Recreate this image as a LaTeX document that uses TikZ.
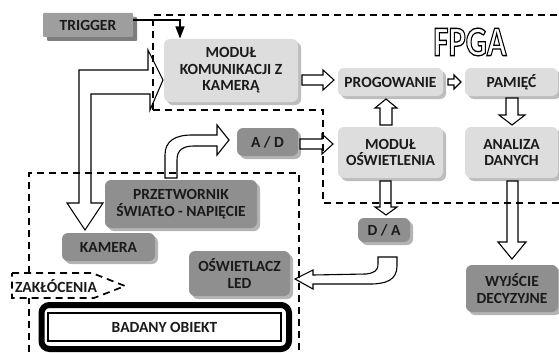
\documentclass[tikz,border=0pt]{standalone}
\usepackage{fontspec}
\setmainfont{Carlito}
\usetikzlibrary{shadows,arrows.meta}
\definecolor{dfill}{HTML}{8F8F8F}
\definecolor{dshad}{HTML}{B4B4B4}
\definecolor{lfill}{HTML}{DDDDDD}
\definecolor{lshad}{HTML}{BDBDBD}
\definecolor{tfill}{HTML}{9E9E9E}
\definecolor{tshad}{HTML}{7E7E7E}
\definecolor{txt}{HTML}{1A1A1A}
\newcommand{\lbl}{\fontsize{15.5}{16.5}\selectfont\bfseries\color{txt}}
\tikzset{
  box/.style={rounded corners=6pt, align=center, inner sep=0pt, font=\lbl},
  dbox/.style={box, fill=dfill, drop shadow={shadow xshift=3pt, shadow yshift=-3pt, fill=dshad, opacity=1}},
  lbox/.style={box, fill=lfill, drop shadow={shadow xshift=3pt, shadow yshift=-3pt, fill=lshad, opacity=1}},
  tbox/.style={box, rounded corners=1pt, fill=tfill, drop shadow={shadow xshift=4pt, shadow yshift=-4pt, fill=tshad, opacity=1}},
  sz/.style 2 args={minimum width=#1pt, minimum height=#2pt},
  barrow/.style={draw=black, fill=white, line width=1.1pt, line join=miter},
  dashline/.style={draw=black, line width=1.7pt, dash pattern=on 7pt off 5pt},
}
\begin{document}
\begin{tikzpicture}[x=1pt,y=-1pt]
\useasboundingbox (0,0) rectangle (559,353);
\fill[white] (0,0) rectangle (559,353);

% boxes
\node[tbox, sz={90}{24}] (trig) at (88,25) {TRIGGER};
\node[lbox, sz={134}{63}] (kom) at (231,70.5) {MODUŁ\\KOMUNIKACJI Z\\KAMERĄ};
\node[lbox, sz={105}{28}] (prog) at (390.5,82) {PROGOWANIE};
\node[lbox, sz={93}{28}] (pam) at (511.5,82) {PAMIĘĆ};
\node[lbox, sz={105}{51}] (osw) at (390.5,152.5) {MODUŁ\\OŚWIETLENIA};
\node[lbox, sz={93}{51}] (anal) at (511.5,152.5) {ANALIZA\\DANYCH};
\node[dbox, sz={61}{28}] (ad) at (267.5,142) {A / D};
\node[dbox, sz={152}{48}] (prz) at (181,204) {PRZETWORNIK\\ŚWIATŁO - NAPIĘCIE};
\node[dbox, sz={93}{28}] (kam) at (108.5,247) {KAMERA};
\node[dbox, sz={101}{45}] (led) at (239.5,273.5) {OŚWIETLACZ\\LED};
\node[dbox, sz={52}{24}] (da) at (384,230) {D / A};
\node[dbox, sz={92}{47}] (wyj) at (512,288.5) {WYJŚCIE\\DECYZYJNE};

% badany obiekt
\draw[line width=6pt, rounded corners=8pt] (41.5,305) rectangle (289,349);
\node[draw=black, line width=1.2pt, fill=white, sz={233}{28}, inner sep=0pt, font=\lbl] (obj) at (164.5,327) {BADANY OBIEKT};

% FPGA label (outlined text)
\node[font=\fontsize{42}{42}\selectfont\bfseries, xscale=0.78, inner sep=0pt] (fpga) at (470,42)
  {\special{pdf:literal direct 1 Tr 1.3 w 0 G}FPGA\special{pdf:literal direct 0 Tr}};

% trigger connector
\coordinate (tk) at (180,38.5);
\draw[line width=1.3pt, -{Triangle[width=9pt,length=12pt]}] ([yshift=5pt]trig.east) -| (tk);

% block arrows
\draw[barrow] (302,75) -- (323,75) -- (323,70) -- (334,80) -- (323,90) -- (323,85) -- (302,85) -- cycle;
\draw[barrow] (448,79) -- (454,79) -- (454,75) -- (461,82) -- (454,89) -- (454,85) -- (448,85) -- cycle;
\draw[barrow] (380,125) -- (380,108) -- (375,108) -- (386,99) -- (397,108) -- (392,108) -- (392,125) -- cycle;
\draw[barrow] (506,98) -- (518,98) -- (518,115) -- (525,115) -- (512,125) -- (499,115) -- (506,115) -- cycle;
\draw[barrow] (300,139) -- (322,139) -- (322,134) -- (333,144) -- (322,154) -- (322,149) -- (300,149) -- cycle;
\draw[barrow] (380,181) -- (391,181) -- (391,207) -- (397,207) -- (386,215) -- (375,207) -- (380,207) -- cycle;
\draw[barrow] (507,181) -- (518,181) -- (518,242) -- (526,242) -- (512,259) -- (498,242) -- (507,242) -- cycle;
% big L arrow: to kamera and to modul komunikacji
\draw[barrow] (79,70) -- (148,70) -- (148,50) -- (163,80) -- (150,110) -- (150,94) -- (91,94)
  -- (91,203) -- (103,203) -- (85,230) -- (67,203) -- (79,203) -- cycle;
% przetwornik -> A/D
\draw[barrow] (165,178) -- (165,155) .. controls (165,141) and (175,135) .. (192,135) -- (217,135)
  -- (217,125) -- (229,140) -- (217,155) -- (217,146) -- (194,146) .. controls (183,146) and (177,150) .. (177,160)
  -- (177,178) -- cycle;
% D/A -> LED
\draw[barrow] (378,257) -- (397,257) -- (397,266) .. controls (397,280) and (386,284) .. (370,284) -- (313,284)
  -- (313,289) -- (295,279) -- (313,270) -- (313,275) -- (366,274) .. controls (374,273) and (378,271) .. (378,264) -- cycle;

% dashed regions
\draw[dashline] (153,110) -- (153,15) -- (559,15);
\draw[dashline] (153,110) -- (323,110) -- (323,203) -- (559,203);
\draw[dashline] (29,273) -- (29,173) -- (299,173) -- (299,353);
\draw[dashline] (29,297) -- (29,353);
\draw[dashline, fill=white] (12,273) -- (92,273) -- (125,286) -- (94,298) -- (12,298) -- cycle;
\node[font=\lbl, inner sep=0pt] (zak) at (56,286) {ZAKŁÓCENIA};
\end{tikzpicture}
\end{document}
